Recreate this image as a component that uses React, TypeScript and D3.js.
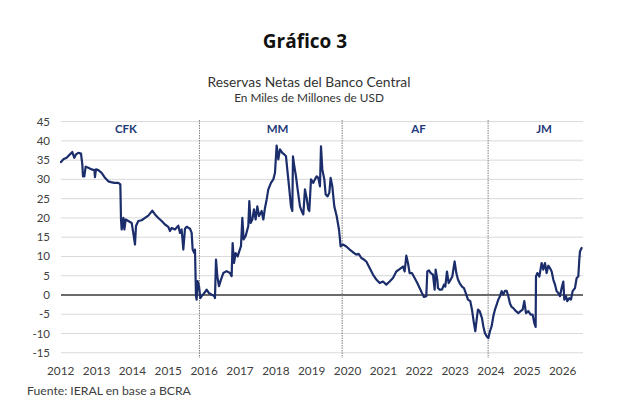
import React from "react";
import * as d3 from "d3";

// Fecha (año decimal) y reservas netas (miles de millones de USD)
const fechas = [
  2012.008, 2012.073, 2012.166, 2012.259, 2012.324, 2012.38, 2012.427, 2012.492, 2012.566, 2012.603,
  2012.622, 2012.659, 2012.696, 2012.771, 2012.863, 2012.938, 2012.956, 2012.984, 2013.049, 2013.142,
  2013.235, 2013.328, 2013.403, 2013.496, 2013.607, 2013.663, 2013.682, 2013.7, 2013.747, 2013.775,
  2013.812, 2013.886, 2013.979, 2014.025, 2014.072, 2014.1, 2014.165, 2014.258, 2014.351, 2014.444,
  2014.555, 2014.63, 2014.723, 2014.816, 2014.908, 2015.001, 2015.048, 2015.094, 2015.187, 2015.28,
  2015.327, 2015.373, 2015.42, 2015.466, 2015.513, 2015.606, 2015.652, 2015.68, 2015.727, 2015.745,
  2015.773, 2015.791, 2015.819, 2015.857, 2015.894, 2015.931, 2016.005, 2016.07, 2016.135, 2016.21,
  2016.284, 2016.303, 2016.331, 2016.368, 2016.414, 2016.47, 2016.535, 2016.628, 2016.721, 2016.767,
  2016.795, 2016.833, 2016.879, 2016.935, 2016.981, 2017.028, 2017.065, 2017.102, 2017.158, 2017.232,
  2017.26, 2017.297, 2017.344, 2017.39, 2017.437, 2017.483, 2017.53, 2017.604, 2017.651, 2017.697,
  2017.744, 2017.79, 2017.864, 2017.929, 2017.976, 2018.022, 2018.069, 2018.115, 2018.18, 2018.236,
  2018.283, 2018.329, 2018.376, 2018.422, 2018.459, 2018.478, 2018.515, 2018.562, 2018.608, 2018.673,
  2018.719, 2018.766, 2018.812, 2018.859, 2018.905, 2018.933, 2018.98, 2019.045, 2019.091, 2019.138,
  2019.184, 2019.231, 2019.259, 2019.296, 2019.352, 2019.389, 2019.445, 2019.491, 2019.528, 2019.575,
  2019.63, 2019.696, 2019.761, 2019.807, 2019.872, 2019.965, 2020.058, 2020.151, 2020.244, 2020.309,
  2020.384, 2020.458, 2020.523, 2020.616, 2020.709, 2020.802, 2020.895, 2020.988, 2021.081, 2021.174,
  2021.267, 2021.36, 2021.453, 2021.546, 2021.592, 2021.639, 2021.685, 2021.731, 2021.796, 2021.871,
  2021.945, 2022.01, 2022.075, 2022.131, 2022.196, 2022.224, 2022.271, 2022.317, 2022.382, 2022.429,
  2022.457, 2022.503, 2022.522, 2022.568, 2022.633, 2022.689, 2022.726, 2022.773, 2022.819, 2022.875,
  2022.921, 2022.986, 2023.033, 2023.079, 2023.126, 2023.191, 2023.247, 2023.312, 2023.358, 2023.423,
  2023.47, 2023.516, 2023.563, 2023.6, 2023.637, 2023.684, 2023.749, 2023.786, 2023.832, 2023.879,
  2023.925, 2023.972, 2024.018, 2024.065, 2024.111, 2024.158, 2024.204, 2024.251, 2024.297, 2024.344,
  2024.39, 2024.437, 2024.483, 2024.53, 2024.576, 2024.623, 2024.697, 2024.762, 2024.827, 2024.883,
  2024.929, 2024.976, 2025.041, 2025.106, 2025.162, 2025.208, 2025.245, 2025.255, 2025.292, 2025.348,
  2025.413, 2025.459, 2025.506, 2025.552, 2025.599, 2025.645, 2025.692, 2025.738, 2025.785, 2025.831,
  2025.877, 2025.924, 2025.97, 2026.017, 2026.045, 2026.091, 2026.128, 2026.184, 2026.231, 2026.277,
  2026.342, 2026.389, 2026.435, 2026.463, 2026.482, 2026.528,
];

const reservas = [
  34.5, 35.2, 35.6, 36.5, 37.1, 35.6, 36.5, 36.9, 36.7, 33.9,
  30.8, 30.8, 33.3, 33.0, 32.6, 32.4, 30.6, 32.6, 32.4, 31.7,
  30.4, 29.5, 29.3, 29.1, 29.1, 28.7, 19.6, 17.0, 20.0, 17.0,
  19.6, 19.2, 18.7, 16.1, 13.1, 17.9, 19.2, 19.4, 20.0, 20.6,
  21.9, 20.9, 20.0, 19.2, 18.3, 17.7, 16.6, 17.4, 17.0, 18.0,
  16.1, 17.0, 11.8, 17.2, 17.7, 17.2, 16.1, 11.8, 10.9, 11.8,
  -0.3, -1.2, 3.6, 2.3, -0.8, -0.3, 0.5, 1.4, 0.5, 0.1,
  -0.3, -0.8, 9.2, 4.9, 2.3, 4.0, 5.7, 6.2, 5.7, 4.9,
  13.5, 8.3, 10.9, 10.0, 11.4, 12.7, 20.0, 14.4, 15.3, 17.9,
  24.4, 18.7, 19.6, 22.2, 19.6, 23.0, 20.5, 21.8, 19.6, 22.6,
  24.8, 27.4, 29.1, 30.0, 31.7, 38.8, 35.2, 37.8, 36.9, 36.5,
  36.0, 31.7, 27.4, 23.0, 21.8, 36.0, 33.4, 30.8, 27.4, 23.0,
  21.8, 20.9, 27.4, 25.2, 22.2, 21.8, 30.0, 29.1, 30.0, 30.8,
  30.4, 28.2, 38.6, 32.6, 30.0, 26.1, 25.6, 26.5, 30.4, 28.2,
  23.0, 20.5, 17.0, 12.6, 13.1, 12.6, 11.8, 11.1, 10.5, 10.7,
  9.6, 9.2, 8.7, 7.0, 5.3, 4.0, 3.1, 3.5, 2.7, 3.5,
  4.4, 6.1, 6.7, 7.4, 6.1, 10.2, 8.3, 5.7, 5.7, 4.4,
  3.1, 1.8, 0.5, -0.5, -0.3, 6.1, 6.4, 5.7, 5.3, 1.4,
  6.6, 4.0, 1.8, 1.4, 1.4, 2.7, 2.2, 6.1, 3.1, 4.0,
  4.8, 8.7, 5.7, 4.0, 3.1, 2.2, 1.8, 0.1, -1.2, -1.6,
  -3.8, -6.8, -9.4, -6.4, -3.8, -4.2, -6.0, -8.1, -9.9, -10.7,
  -11.2, -9.4, -8.1, -5.5, -3.8, -2.5, -1.2, -0.3, 1.0, 0.1,
  1.1, 1.1, -0.3, -2.2, -3.1, -3.4, -4.2, -4.7, -4.2, -3.8,
  -1.6, -4.7, -4.2, -5.1, -5.1, -7.3, -8.3, 4.8, 5.7, 4.8,
  8.3, 6.6, 8.3, 5.7, 7.6, 7.0, 6.1, 4.0, 2.7, 1.0,
  0.5, -0.3, 1.8, 3.5, -1.2, -0.3, -1.6, -0.8, -1.2, 1.0,
  1.8, 4.4, 4.8, 9.2, 11.3, 12.2,
];

const anios = d3.range(2012, 2027);
const yTicks = d3.range(-15, 50, 5);
const cambiosGobierno = [2015.87, 2019.85, 2023.92];
const periodos = ["CFK", "MM", "AF", "JM"];
const periodoCentro = [2013.82, 2018.05, 2021.98, 2025.48];

const W = 640;
const H = 414;
const plotLeft = 61;
const plotRight = 583;
const NAVY = "#1b2d6b";
const FONT = "Lato, 'Open Sans', sans-serif";

export default function App() {
  const x = d3.scaleLinear().domain([2012, 2026]).range([60.7, 562.7]);
  const y = d3.scaleLinear().domain([-15, 45]).range([352.8, 121.6]);

  const serie = fechas.map((f, i) => [f, reservas[i]] as [number, number]);
  const line = d3
    .line<[number, number]>()
    .x((d) => x(d[0]))
    .y((d) => y(d[1]));

  return (
    <svg
      width={W}
      height={H}
      style={{ position: "absolute", left: 0, top: 0, background: "#fff" }}
      fontFamily={FONT}
    >
      <rect width={W} height={H} fill="#fff" />
      <text
        x={305}
        y={48}
        textAnchor="middle"
        fontFamily="'Open Sans', sans-serif"
        fontWeight={700}
        fontSize={19}
        fill="#111"
      >
        Gráfico 3
      </text>
      <text x={309} y={86.5} textAnchor="middle" fontSize={13.8} fill="#333">
        Reservas Netas del Banco Central
      </text>
      <text x={309} y={101.5} textAnchor="middle" fontSize={11.8} fill="#333">
        En Miles de Millones de USD
      </text>

      {/* grilla horizontal */}
      {yTicks.map((t) => (
        <line
          key={t}
          x1={plotLeft}
          x2={plotRight}
          y1={y(t)}
          y2={y(t)}
          stroke={t === 0 ? "#3a3a3a" : "#d9d9d9"}
          strokeWidth={t === 0 ? 1.3 : 1}
        />
      ))}
      {yTicks.map((t) => (
        <text
          key={"l" + t}
          x={50}
          y={y(t)}
          dy="0.35em"
          textAnchor="end"
          fontSize={11.5}
          fill="#404040"
        >
          {t}
        </text>
      ))}

      {/* cambios de gobierno */}
      {cambiosGobierno.map((c) => (
        <line
          key={c}
          x1={x(c)}
          x2={x(c)}
          y1={120}
          y2={358}
          stroke="#7f7f7f"
          strokeWidth={1}
          strokeDasharray="1.5,1"
        />
      ))}
      {periodos.map((p, i) => (
        <text
          key={p}
          x={x(periodoCentro[i])}
          y={133}
          textAnchor="middle"
          fontSize={11.5}
          fontWeight={700}
          fill="#1f3a78"
        >
          {p}
        </text>
      ))}

      <path
        d={line(serie) ?? ""}
        fill="none"
        stroke={NAVY}
        strokeWidth={2.2}
        strokeLinejoin="round"
        strokeLinecap="round"
      />

      {anios.map((a) => (
        <text
          key={a}
          x={x(a)}
          y={375}
          textAnchor="middle"
          fontSize={11.8}
          fill="#404040"
        >
          {a}
        </text>
      ))}

      <text x={27} y={395} fontSize={12.2} fill="#404040">
        Fuente: IERAL en base a BCRA
      </text>
    </svg>
  );
}
